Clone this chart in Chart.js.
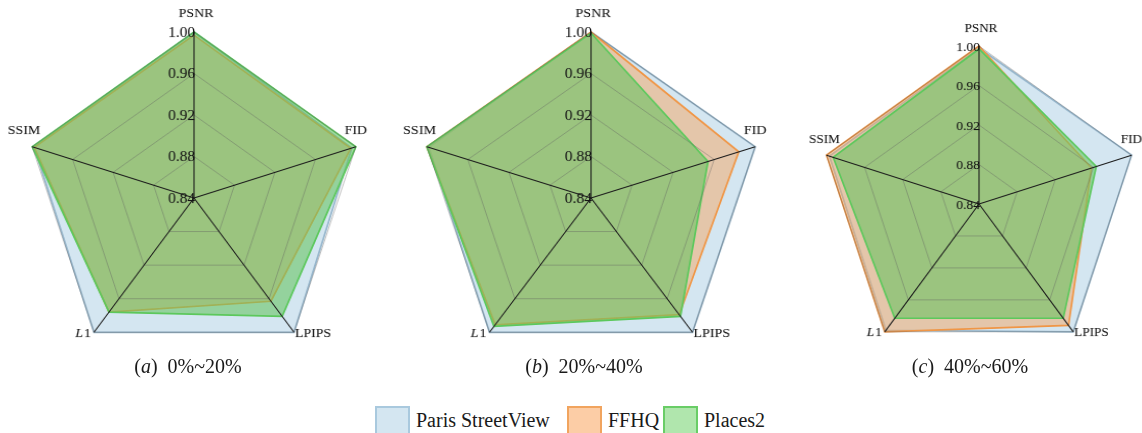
<!DOCTYPE html>
<html>
<head>
<meta charset="utf-8">
<script src="https://cdn.jsdelivr.net/npm/chart.js@4/dist/chart.umd.min.js"></script>
<style>
  html, body { margin: 0; padding: 0; }
  body {
    width: 1142px; height: 433px; background: #fff; position: relative; overflow: hidden;
    font-family: "Liberation Serif", "Times New Roman", serif; color: #1a1a1a;
  }
  .panel { position: absolute; }
  .panel canvas { display: block; }
  .cap { position: absolute; font-size: 20px; white-space: nowrap; transform: translate(-50%, -50%); }
  .legend { position: absolute; left: 0; top: 405px; width: 1142px; height: 30px; }
  .item { position: absolute; top: 0; height: 30px; display: flex; align-items: center; font-size: 20px; }
  .box { width: 31px; height: 25px; border: 2.5px solid; margin-right: 6px; box-sizing: content-box; }
</style>
</head>
<body>
<div id="root"></div>
<div class="legend" id="legend"></div>
<script>
// Axes, clockwise from the top
const metrics = ['PSNR', 'FID', 'LPIPS', 'L1', 'SSIM'];
const tickValues = [0.84, 0.88, 0.92, 0.96, 1.00];
const tickLabels = ['0.84', '0.88', '0.92', '0.96', '1.00'];
const seriesNames = ['Paris StreetView', 'FFHQ', 'Places2'];

// Normalised scores per mask ratio (PSNR, FID, LPIPS, L1, SSIM)
const parisLow  = [1.000, 0.996, 1.000, 1.000, 0.998];
const ffhqLow   = [0.997, 0.995, 0.963, 0.976, 0.998];
const placesLow = [1.000, 1.000, 0.981, 0.976, 1.000];

const parisMid  = [1.000, 1.000, 1.000, 1.000, 0.998];
const ffhqMid   = [1.000, 0.984, 0.979, 0.991, 1.000];
const placesMid = [0.999, 0.954, 0.981, 0.993, 1.000];

const parisHigh  = [0.998, 1.000, 1.000, 0.998, 0.997];
const ffhqHigh   = [1.000, 0.958, 0.992, 1.000, 1.000];
const placesHigh = [0.997, 0.963, 0.983, 0.983, 0.993];

const captionLetters = ['a', 'b', 'c'];
const captionRanges = ['0%~20%', '20%~40%', '40%~60%'];

const seriesStyle = [
  { border: 'rgba(150,182,204,1)', fill: 'rgba(170,205,228,0.5)', box: '#d4e6f1', boxBorder: '#a9c9de' },
  { border: 'rgba(240,150,70,1)',  fill: 'rgba(246,168,100,0.5)', box: '#fccda6', boxBorder: '#f1a45e' },
  { border: 'rgba(92,200,92,1)',   fill: 'rgba(104,196,96,0.58)', box: '#b0e6ad', boxBorder: '#69cd66' }
];

const panels = [
  { data: [parisLow,  ffhqLow,  placesLow ], cx: 194, cy: 198, r: 166, sx: 1.025, lab: 13.5, tick: 15,   ssimShift: -8, capX: 188, capY: 366 },
  { data: [parisMid,  ffhqMid,  placesMid ], cx: 591, cy: 198, r: 166, sx: 1.04,  lab: 13.5, tick: 15,   ssimShift: -7, capX: 584, capY: 366 },
  { data: [parisHigh, ffhqHigh, placesHigh], cx: 979, cy: 204, r: 158, sx: 1.015, lab: 13,   tick: 13.5, ssimShift: -2, capX: 970, capY: 366 }
];

const CW = 420, CH = 380;
const FONT = '"Liberation Serif", "Times New Roman", serif';

// Text with a faint hairline stroke so it reads a little darker
function heavyText(ctx, s, x, y) {
  ctx.fillText(s, x, y);
  ctx.strokeText(s, x, y);
}

// Tick values beside the vertical axis and metric names around the rim
const axisText = {
  id: 'axisText',
  afterDraw(chart, args, opts) {
    const s = chart.scales.r;
    const ctx = chart.ctx;
    ctx.save();
    ctx.fillStyle = '#161616';
    ctx.strokeStyle = 'rgba(22,22,22,0.3)';
    ctx.lineWidth = 0.25;
    ctx.font = opts.tick + 'px ' + FONT;
    ctx.textAlign = 'right';
    ctx.textBaseline = 'middle';
    tickValues.forEach((v, i) => {
      const p = s.getPointPositionForValue(0, v);
      heavyText(ctx, tickLabels[i], p.x + 1, p.y + 1);
    });
    ctx.font = opts.lab + 'px ' + FONT;
    const gap = opts.lab * 1.12;
    metrics.forEach((m, i) => {
      const p = s.getPointPosition(i, s.drawingArea);
      if (i === 0) {
        ctx.textAlign = 'center'; ctx.textBaseline = 'middle';
        heavyText(ctx, m, p.x + 2, p.y - gap - 3);
      } else if (i === 1) {
        ctx.textAlign = 'center'; ctx.textBaseline = 'middle';
        heavyText(ctx, m, p.x, p.y - gap - 1);
      } else if (i === 4) {
        ctx.textAlign = 'center'; ctx.textBaseline = 'middle';
        heavyText(ctx, m, p.x + opts.ssimShift, p.y - gap - 1);
      } else if (i === 2) {
        ctx.textAlign = 'left'; ctx.textBaseline = 'middle';
        heavyText(ctx, m, p.x + 1, p.y + 1);
      } else {
        // italic L followed by an upright 1
        ctx.textBaseline = 'middle';
        ctx.textAlign = 'right';
        const one = '1';
        heavyText(ctx, one, p.x - 3, p.y + 1);
        const w1 = ctx.measureText(one).width;
        ctx.font = 'italic ' + opts.lab + 'px ' + FONT;
        heavyText(ctx, m.charAt(0), p.x - 3 - w1 - 1, p.y + 1);
        ctx.font = opts.lab + 'px ' + FONT;
      }
    });
    ctx.restore();
  }
};

const root = document.getElementById('root');

panels.forEach((pn, k) => {
  const wrap = document.createElement('div');
  wrap.className = 'panel';
  wrap.style.left = (pn.cx - CW / 2) + 'px';
  wrap.style.top = (pn.cy - CH / 2) + 'px';
  wrap.style.width = CW + 'px';
  wrap.style.height = CH + 'px';
  wrap.style.transform = 'scaleX(' + pn.sx + ')';
  wrap.style.transformOrigin = (CW / 2) + 'px 50%';
  const cv = document.createElement('canvas');
  cv.width = CW; cv.height = CH;
  cv.style.width = CW + 'px'; cv.style.height = CH + 'px';
  wrap.appendChild(cv);
  root.appendChild(wrap);

  const padX = CW / 2 - pn.r, padY = CH / 2 - pn.r;

  new Chart(cv, {
    type: 'radar',
    data: {
      labels: metrics,
      datasets: seriesNames.map((name, j) => ({
        label: name,
        data: pn.data[j],
        borderColor: seriesStyle[j].border,
        backgroundColor: seriesStyle[j].fill,
        borderWidth: 1.7,
        pointRadius: 0,
        pointHoverRadius: 0,
        fill: 'start',
        order: 3 - j
      }))
    },
    options: {
      responsive: false,
      animation: false,
      devicePixelRatio: 1,
      layout: { padding: { left: padX, right: padX, top: padY, bottom: padY } },
      plugins: {
        legend: { display: false },
        tooltip: { enabled: false },
        axisText: { lab: pn.lab, tick: pn.tick, ssimShift: pn.ssimShift }
      },
      elements: { line: { tension: 0 } },
      scales: {
        r: {
          min: 0.84,
          max: 1.00,
          startAngle: 0,
          ticks: { display: false, stepSize: 0.04 },
          grid: { z: 1, color: 'rgba(95,95,95,0.5)', lineWidth: 0.8 },
          angleLines: { color: '#1c1c1c', lineWidth: 1.1 },
          pointLabels: { display: false }
        }
      }
    },
    plugins: [axisText]
  });

  const cap = document.createElement('div');
  cap.className = 'cap';
  cap.style.left = pn.capX + 'px';
  cap.style.top = pn.capY + 'px';
  cap.innerHTML = '(<i>' + captionLetters[k] + '</i>)&nbsp;&nbsp;' + captionRanges[k];
  root.appendChild(cap);
});

// Shared legend
const legend = document.getElementById('legend');
const legendX = [375, 567, 663];
seriesNames.forEach((name, j) => {
  const it = document.createElement('div');
  it.className = 'item';
  it.style.left = legendX[j] + 'px';
  const b = document.createElement('div');
  b.className = 'box';
  b.style.background = seriesStyle[j].box;
  b.style.borderColor = seriesStyle[j].boxBorder;
  const t = document.createElement('span');
  t.textContent = name;
  it.appendChild(b);
  it.appendChild(t);
  legend.appendChild(it);
});
</script>
</body>
</html>
